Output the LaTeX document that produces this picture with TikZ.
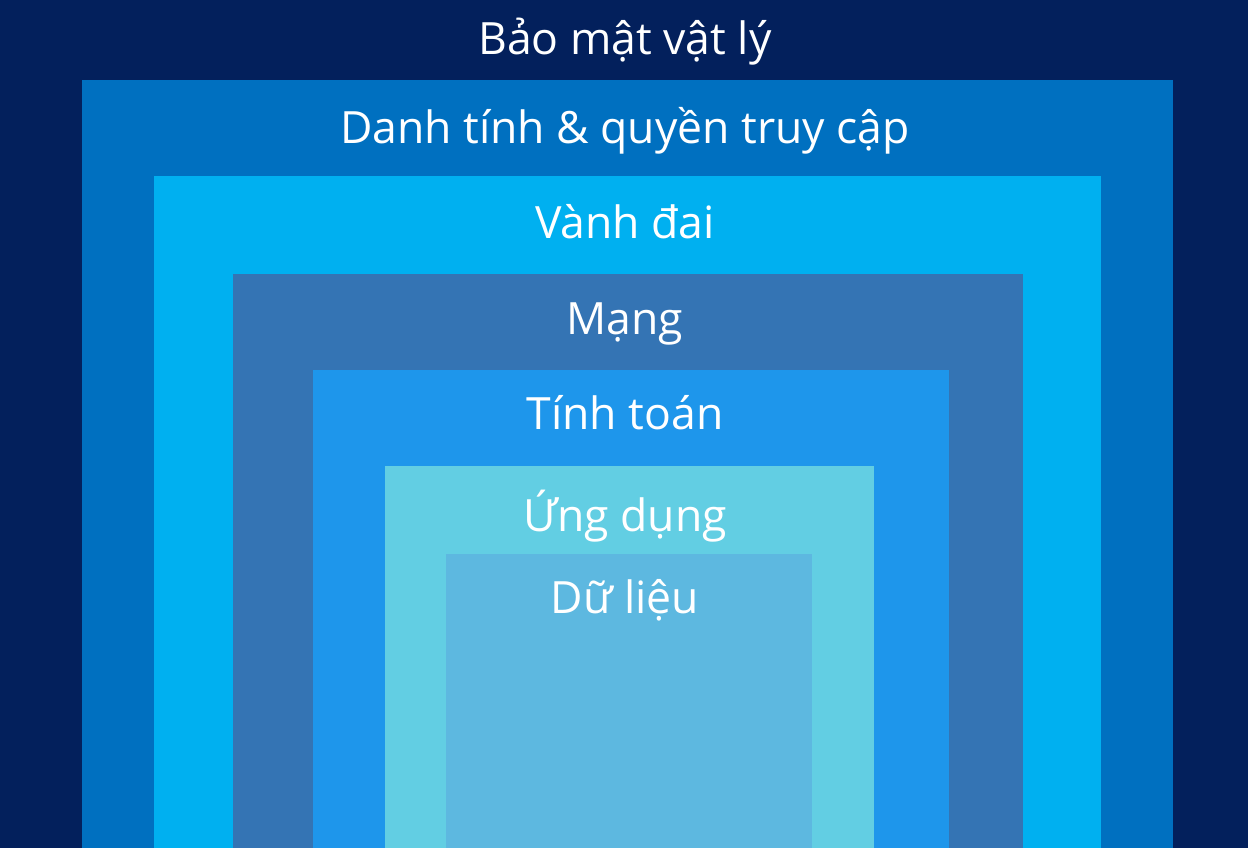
\documentclass[tikz,border=0pt]{standalone}
\usepackage{fontspec}
\setmainfont{Open Sans}
\usepackage{tikz}
\definecolor{physicalbg}{HTML}{03205C}
\definecolor{identitybg}{HTML}{0070C0}
\definecolor{perimeterbg}{HTML}{00B0F0}
\definecolor{networkbg}{HTML}{3474B4}
\definecolor{computebg}{HTML}{1E96EB}
\definecolor{appbg}{HTML}{62CEE3}
\definecolor{databg}{HTML}{5DB8E0}

\begin{document}
\begin{tikzpicture}[
  x=1pt, y=-1pt,
  every node/.style = {text=white, anchor=base, inner sep=0pt,
                       font=\fontsize{44.5}{48}\selectfont}
]
  \useasboundingbox (0,0) rectangle (1248,848);
  \fill[physicalbg]  (0,0)     rectangle (1248,848);
  \fill[identitybg]  (82,80)   rectangle (1173,848);
  \fill[perimeterbg] (154,176) rectangle (1101,848);
  \fill[networkbg]   (233,274) rectangle (1023,848);
  \fill[computebg]   (313,370) rectangle (949,848);
  \fill[appbg]       (385,466) rectangle (874,848);
  \fill[databg]      (446,554) rectangle (812,848);

  \node (physical)  at (625,55)  {Bảo mật vật lý};
  \node (identity)  at (625,144) {Danh tính \& quyền truy cập};
  \node (perimeter) at (625,238) {Vành đai};
  \node (network)   at (625,334) {Mạng};
  \node (compute)   at (625,429) {Tính toán};
  \node (app)       at (625,531) {Ứng dụng};
  \node (data)      at (625,613) {Dữ liệu};
\end{tikzpicture}
\end{document}
